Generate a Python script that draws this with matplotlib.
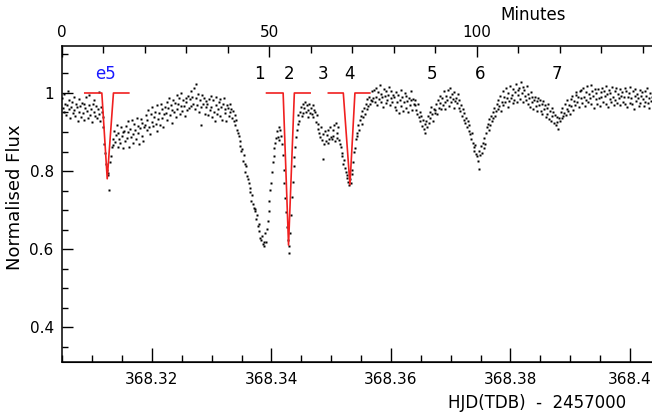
import numpy as np
import matplotlib
matplotlib.use("Agg")
import matplotlib.pyplot as plt
from matplotlib.ticker import FixedLocator, FixedFormatter, MultipleLocator

plt.rcParams['font.family'] = ['DejaVu Sans']

# ---- data -----------------------------------------------------------------
HJD0 = 368.30494          # HJD(TDB)-2457000 at minute 0
CADENCE = 0.2             # minutes between samples

flux = [
    0.987, 0.962, 0.951, 0.998, 0.973, 0.944, 0.969, 1.006, 0.958, 0.981, 0.935, 0.964, 0.977, 0.949, 0.990, 0.957, 0.941, 0.972, 0.963, 0.928, 0.985, 0.952, 0.967, 0.939, 0.974,
    0.948, 0.973, 0.931, 0.962, 0.989, 0.953, 0.937, 0.968, 0.996, 0.944, 0.959, 0.926, 0.971, 0.952, 0.983, 0.941, 0.966, 0.935, 0.958, 1.002, 0.947, 0.929, 0.963, 0.951, 0.938,
    0.912, 0.868, 0.846, 0.817, 0.803, 0.789, 0.796, 0.752, 0.824, 0.838, 0.861, 0.883, 0.867, 0.902, 0.874, 0.893, 0.918, 0.862, 0.897, 0.881, 0.873, 0.912, 0.889, 0.858, 0.901,
    0.903, 0.876, 0.915, 0.884, 0.927, 0.899, 0.862, 0.908, 0.887, 0.932, 0.894, 0.871, 0.921, 0.906, 0.882, 0.937, 0.898, 0.916, 0.869, 0.911, 0.934, 0.889, 0.924, 0.878, 0.913,
    0.918, 0.943, 0.905, 0.931, 0.956, 0.912, 0.894, 0.947, 0.926, 0.963, 0.915, 0.938, 0.952, 0.921, 0.902, 0.968, 0.934, 0.949, 0.917, 0.972, 0.936, 0.958, 0.913, 0.946, 0.965,
    0.948, 0.976, 0.932, 0.961, 0.987, 0.943, 0.969, 0.957, 0.924, 0.983, 0.952, 0.974, 0.939, 0.995, 0.958, 0.971, 0.986, 0.945, 0.966, 0.999, 0.953, 0.981, 0.967, 0.941, 0.988,
    0.978, 0.956, 0.993, 0.962, 0.984, 1.004, 0.967, 0.991, 0.973, 1.012, 0.958, 0.987, 1.024, 0.969, 0.998, 0.951, 0.982, 0.918, 0.964, 0.995, 0.971, 0.986, 0.947, 0.979, 0.963,
    0.972, 0.943, 0.985, 0.956, 0.993, 0.964, 0.938, 0.981, 0.952, 0.929, 0.968, 0.991, 0.947, 0.958, 0.976, 0.984, 0.941, 0.963, 0.932, 0.971, 0.987, 0.949, 0.959, 0.927, 0.968,
    0.961, 0.942, 0.973, 0.951, 0.958, 0.936, 0.953, 0.928, 0.944, 0.917, 0.931, 0.906, 0.897, 0.889, 0.863, 0.878, 0.852, 0.857, 0.826, 0.841, 0.818, 0.797, 0.812, 0.786, 0.779,
    0.768, 0.757, 0.746, 0.724, 0.739, 0.716, 0.706, 0.697, 0.702, 0.677, 0.686, 0.658, 0.664, 0.647, 0.628, 0.622, 0.634, 0.612, 0.608, 0.619, 0.641, 0.617, 0.652, 0.671, 0.698,
    0.723, 0.751, 0.768, 0.797, 0.822, 0.838, 0.859, 0.873, 0.884, 0.902, 0.887, 0.913, 0.879, 0.904, 0.891, 0.868, 0.842, 0.803, 0.768, 0.731, 0.694, 0.657, 0.622, 0.608, 0.591,
    0.642, 0.687, 0.734, 0.771, 0.812, 0.836, 0.862, 0.887, 0.906, 0.921, 0.943, 0.927, 0.952, 0.963, 0.941, 0.971, 0.948, 0.962, 0.976, 0.951, 0.968, 0.957, 0.939, 0.973, 0.949,
    0.962, 0.947, 0.968, 0.939, 0.957, 0.951, 0.926, 0.943, 0.908, 0.921, 0.897, 0.886, 0.913, 0.879, 0.831, 0.894, 0.868, 0.903, 0.877, 0.892, 0.871, 0.906, 0.883, 0.914, 0.887,
    0.881, 0.904, 0.889, 0.917, 0.876, 0.924, 0.898, 0.885, 0.912, 0.879, 0.868, 0.861, 0.847, 0.838, 0.818, 0.829, 0.808, 0.798, 0.791, 0.782, 0.771, 0.763, 0.779, 0.768, 0.792,
    0.803, 0.824, 0.849, 0.858, 0.881, 0.897, 0.889, 0.918, 0.906, 0.931, 0.942, 0.921, 0.953, 0.938, 0.962, 0.947, 0.973, 0.958, 0.984, 0.966, 0.991, 0.972, 0.983, 1.004, 0.979,
    0.988, 1.007, 0.976, 1.013, 0.991, 0.969, 1.002, 0.984, 1.021, 0.978, 0.997, 0.989, 0.965, 1.011, 0.993, 0.974, 1.004, 0.981, 0.995, 1.016, 0.968, 0.987, 1.006, 0.977, 0.994,
    0.991, 0.963, 1.003, 0.956, 0.978, 0.994, 0.948, 0.982, 1.008, 0.967, 0.989, 0.953, 0.976, 1.001, 0.962, 0.993, 0.979, 0.951, 0.986, 0.968, 0.981, 1.005, 0.957, 0.984, 0.972,
    0.968, 0.983, 0.957, 0.946, 0.971, 0.938, 0.952, 0.927, 0.941, 0.916, 0.932, 0.908, 0.921, 0.897, 0.928, 0.913, 0.942, 0.924, 0.951, 0.937, 0.963, 0.946, 0.929, 0.958, 0.948,
    0.957, 0.972, 0.946, 0.983, 0.961, 0.974, 0.992, 0.958, 0.987, 0.969, 1.004, 0.978, 0.959, 0.993, 0.981, 1.008, 0.966, 0.989, 1.013, 0.976, 0.998, 0.985, 0.962, 1.002, 0.979,
    0.988, 0.974, 0.997, 0.962, 0.981, 0.953, 0.968, 0.942, 0.959, 0.931, 0.948, 0.924, 0.937, 0.912, 0.929, 0.903, 0.917, 0.894, 0.882, 0.898, 0.873, 0.862, 0.851, 0.866, 0.843,
    0.838, 0.826, 0.852, 0.804, 0.841, 0.863, 0.847, 0.872, 0.858, 0.884, 0.869, 0.897, 0.912, 0.921, 0.904, 0.933, 0.918, 0.942, 0.927, 0.951, 0.936, 0.962, 0.941, 0.953, 0.971,
    0.958, 0.982, 0.967, 0.993, 0.954, 0.978, 1.004, 0.969, 0.991, 0.976, 1.012, 0.987, 0.963, 1.001, 0.979, 1.019, 0.988, 0.996, 0.974, 1.011, 0.983, 1.003, 1.022, 0.977, 1.008,
    0.996, 1.012, 0.984, 1.027, 0.999, 1.016, 0.978, 1.007, 0.993, 0.981, 1.018, 0.972, 0.997, 0.986, 0.964, 1.002, 0.977, 0.989, 0.958, 0.983, 0.991, 0.967, 0.979, 0.953, 0.987,
    0.968, 0.982, 0.954, 0.973, 0.947, 0.979, 0.958, 0.969, 0.938, 0.961, 0.946, 0.972, 0.934, 0.953, 0.927, 0.962, 0.941, 0.951, 0.924, 0.943, 0.918, 0.939, 0.926, 0.907, 0.936,
    0.928, 0.952, 0.937, 0.961, 0.942, 0.948, 0.973, 0.944, 0.958, 0.981, 0.955, 0.969, 0.947, 0.984, 0.966, 0.992, 0.957, 0.979, 0.968, 0.994, 1.003, 0.976, 0.989, 0.963, 1.006,
    0.986, 1.008, 0.974, 1.014, 0.991, 0.967, 1.003, 0.982, 1.017, 0.976, 0.998, 0.988, 1.021, 0.971, 1.005, 0.993, 0.962, 1.011, 0.984, 0.999, 0.973, 1.009, 0.987, 0.966, 1.002,
    0.989, 1.012, 0.976, 1.004, 0.993, 1.019, 0.971, 0.998, 0.965, 1.008, 0.985, 1.001, 0.978, 1.015, 0.991, 0.968, 1.006, 0.983, 1.013, 0.974, 0.997, 0.988, 0.969, 1.010, 0.992,
    1.003, 0.977, 0.991, 1.014, 0.972, 1.006, 0.963, 0.989, 1.001, 0.975, 1.016, 0.986, 0.971, 1.004, 0.958, 0.993, 1.011, 0.979, 0.998, 0.987, 0.966, 1.007, 0.974, 0.992, 1.002,
    0.985, 0.967, 1.004, 0.978, 0.993, 1.012, 0.974, 0.988, 0.961, 1.001, 0.979, 0.991,
]

# red eclipse models (minutes, flux)
model_e5_t = [5.5, 9.6, 10.9, 12.4, 16.1]
model_e5_f = [1.0, 1.0, 0.78, 1.0, 1.0]
model_2_t = [49.3, 53.3, 54.6, 56.0, 59.8]
model_2_f = [1.0, 1.0, 0.61, 1.0, 1.0]
model_4_t = [64.2, 67.8, 69.4, 70.6, 74.2]
model_4_f = [1.0, 1.0, 0.765, 1.0, 1.0]

# dip labels
dip_labels = ['e5', '1', '2', '3', '4', '5', '6', '7']
dip_label_t = [10.4, 47.5, 54.7, 62.9, 69.2, 89.2, 100.7, 119.3]
dip_label_colors = ['#1a1aff', 'k', 'k', 'k', 'k', 'k', 'k', 'k']
LABEL_Y = 1.049

minute_ticks = [0, 50, 100]
hjd_ticks = [368.32, 368.34, 368.36, 368.38, 368.40]
hjd_ticklabels = ['368.32', '368.34', '368.36', '368.38', '368.4']
y_ticks = [0.4, 0.6, 0.8, 1.0]
y_ticklabels = ['0.4', '0.6', '0.8', '1']

# ---- plot -----------------------------------------------------------------
t = np.arange(len(flux)) * CADENCE

fig = plt.figure(figsize=(6.52, 4.16), dpi=100)
ax = fig.add_axes([62/652, 1-362/416, 1-62/652, (362-46)/416])

ax.plot(t, flux, 's', ms=2.1, color='k', mec='none')
red = '#f02020'
for mt, mf in [(model_e5_t, model_e5_f), (model_2_t, model_2_f), (model_4_t, model_4_f)]:
    ax.plot(mt, mf, '-', color=red, lw=1.2)

for lab, lt, lc in zip(dip_labels, dip_label_t, dip_label_colors):
    ax.text(lt, LABEL_Y, lab, ha='center', va='center', fontsize=12, color=lc)

ax.set_xlim(0, 590/4.149)
ax.set_ylim(0.3103, 1.1205)

# top axis: minutes
ax.xaxis.tick_top()
ax.xaxis.set_major_locator(FixedLocator(minute_ticks))
ax.xaxis.set_minor_locator(MultipleLocator(10))
ax.tick_params(axis='x', which='major', direction='in', length=8, width=1, pad=4, labelsize=11)
ax.tick_params(axis='x', which='minor', direction='in', length=5, width=1)
ax.text(533/652, 1-15/416, 'Minutes', transform=fig.transFigure, ha='center', va='center', fontsize=12)

# y axis
ax.yaxis.set_major_locator(FixedLocator(y_ticks))
ax.yaxis.set_major_formatter(FixedFormatter(y_ticklabels))
ax.yaxis.set_minor_locator(MultipleLocator(0.05))
ax.tick_params(axis='y', which='major', direction='in', length=8, width=1, pad=6, labelsize=11)
ax.tick_params(axis='y', which='minor', direction='in', length=4, width=1)
fig.text(15/652, 1-197/416, 'Normalised Flux', rotation=90, ha='center', va='center', fontsize=13)

# bottom axis: HJD
sec = ax.secondary_xaxis('bottom', functions=(lambda m: HJD0 + m/1440.0, lambda h: (h - HJD0)*1440.0))
sec.xaxis.set_major_locator(FixedLocator(hjd_ticks))
sec.xaxis.set_major_formatter(FixedFormatter(hjd_ticklabels))
sec.xaxis.set_minor_locator(MultipleLocator(0.005))
sec.tick_params(axis='x', which='major', direction='in', length=10, width=1, pad=7, labelsize=11)
sec.tick_params(axis='x', which='minor', direction='in', length=5, width=1)
fig.text(537/652, 1-403/416, 'HJD(TDB)  -  2457000', ha='center', va='center', fontsize=12)

ax.spines['right'].set_visible(False)
for s in ['top', 'left', 'bottom']:
    ax.spines[s].set_linewidth(1.1)

fig.savefig('out.png', dpi=100)
